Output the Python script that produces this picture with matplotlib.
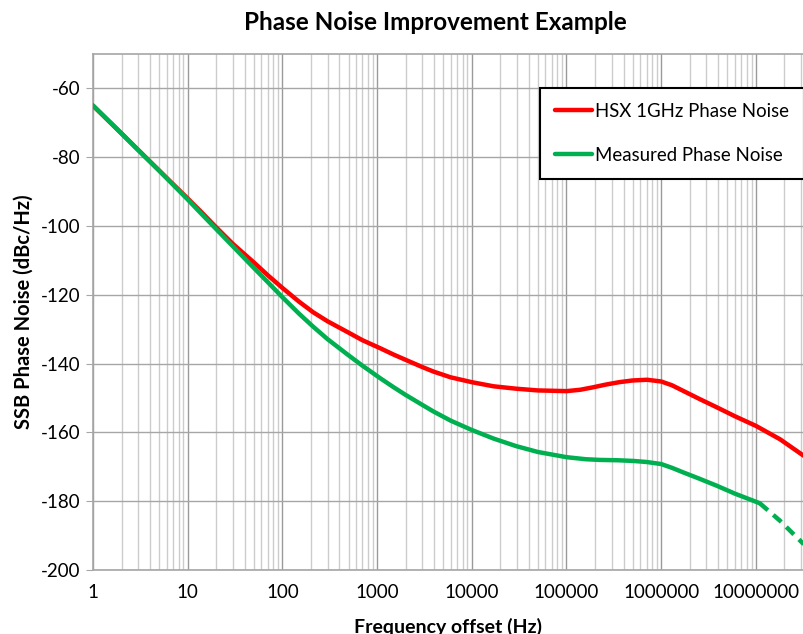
import numpy as np
import matplotlib.pyplot as plt
from matplotlib.ticker import FixedLocator, LogLocator, NullFormatter

# values
freq_hsx = [1, 2, 3, 5, 10, 14, 20, 30, 50, 70, 100, 150, 212, 300, 500, 700, 1072,
            1500, 2000, 3000, 3925, 6000, 10000, 17000, 29500, 50000, 100000, 140000,
            190000, 260000, 360000, 500000, 710000, 1000000, 1300000, 1700000,
            2500000, 3860000, 6000000, 10000000, 18000000, 32000000]
pn_hsx = [-65, -73.1, -77.9, -83.9, -92.0, -96.0, -100.4, -105.2, -110.6, -114.3,
          -118.0, -122.0, -125.1, -127.7, -131.0, -133.2, -135.5, -137.4, -138.9,
          -141.0, -142.3, -144.0, -145.4, -146.6, -147.3, -147.8, -148.0, -147.6,
          -146.9, -146.1, -145.4, -144.9, -144.7, -145.2, -146.3, -147.9, -150.2,
          -152.7, -155.3, -158.1, -162.0, -166.8]

freq_meas = [1, 2, 3, 5, 10, 14, 20, 30, 50, 70, 100, 150, 212, 300, 500, 700, 1072,
             1500, 2000, 3000, 3925, 6000, 10000, 17000, 29500, 50000, 100000, 160000,
             226000, 350000, 510000, 700000, 1000000, 1300000, 1700000, 2500000,
             3860000, 6000000, 11000000]
pn_meas = [-65, -73.1, -77.9, -83.9, -92.3, -96.5, -100.9, -105.9, -112.2, -116.3,
           -120.7, -125.5, -129.3, -132.9, -137.6, -140.6, -144.2, -146.9, -149.1,
           -152.0, -153.9, -156.6, -159.3, -161.8, -164.0, -165.7, -167.2, -167.8,
           -168.0, -168.1, -168.3, -168.6, -169.2, -170.3, -171.6, -173.4, -175.5,
           -177.8, -180.6]

freq_extra = [11000000, 18000000, 32000000]
pn_extra = [-180.6, -185.7, -192.5]

plt.rcParams['font.family'] = ['Lato', 'DejaVu Sans']
plt.rcParams['axes.unicode_minus'] = False

fig = plt.figure(figsize=(8.04, 6.34), dpi=100)
ax = fig.add_axes([93 / 804, 1 - 570 / 634, 1 - 93 / 804, (570 - 54) / 634])

ax.plot(freq_hsx, pn_hsx, color='#ff0000', lw=3.2, label='HSX 1GHz Phase Noise',
        solid_capstyle='round', solid_joinstyle='round', zorder=3)
ax.plot(freq_meas, pn_meas, color='#00b050', lw=3.2, label='Measured Phase Noise',
        solid_capstyle='round', solid_joinstyle='round', zorder=3)
ax.plot(freq_extra, pn_extra, color='#00b050', lw=3.2, ls=(0, (2.4, 1.6)), zorder=3)

ax.set_xscale('log')
ax.set_xlim(1, 10 ** 7.508)
ax.set_ylim(-200, -50)

decades = [10 ** i for i in range(8)]
ax.xaxis.set_major_locator(FixedLocator(decades))
ax.set_xticklabels([str(d) for d in decades])
ax.xaxis.set_minor_locator(LogLocator(base=10, subs=np.arange(2, 10), numticks=20))
ax.xaxis.set_minor_formatter(NullFormatter())
ax.set_yticks(np.arange(-200, -59, 20))

ax.grid(True, which='major', axis='x', color='#9a9a9a', lw=1)
ax.grid(True, which='minor', axis='x', color='#cccccc', lw=1)
ax.grid(True, which='major', axis='y', color='#a6a6a6', lw=1)
ax.set_axisbelow(True)

for s in ['left', 'bottom', 'top']:
    ax.spines[s].set_color('#a6a6a6')
    ax.spines[s].set_linewidth(1.2)
ax.spines['right'].set_visible(False)

ax.tick_params(axis='x', which='both', length=0, pad=10, labelsize=13.5)
ax.tick_params(axis='y', length=5, color='#a6a6a6', pad=4, labelsize=13.5)

ax.set_xlabel('Frequency offset (Hz)', fontsize=14, fontweight='bold', labelpad=12)
ax.set_ylabel('SSB Phase Noise (dBc/Hz)', fontsize=14.5, fontweight='bold', labelpad=5)

fig.text(435 / 804, 1 - 22 / 634, 'Phase Noise Improvement Example', ha='center',
         va='center', fontsize=17.5, fontweight='bold')

leg = ax.legend(loc='upper left', bbox_to_anchor=(540 / 804, 1 - 88 / 634),
                bbox_transform=fig.transFigure, fontsize=13.4, frameon=True,
                fancybox=False, edgecolor='black', framealpha=1, handlelength=2.0,
                handletextpad=0.15, labelspacing=1.45, borderpad=0.8, borderaxespad=0)
leg.get_frame().set_linewidth(1.5)

fig.savefig('out.png', dpi=100)
